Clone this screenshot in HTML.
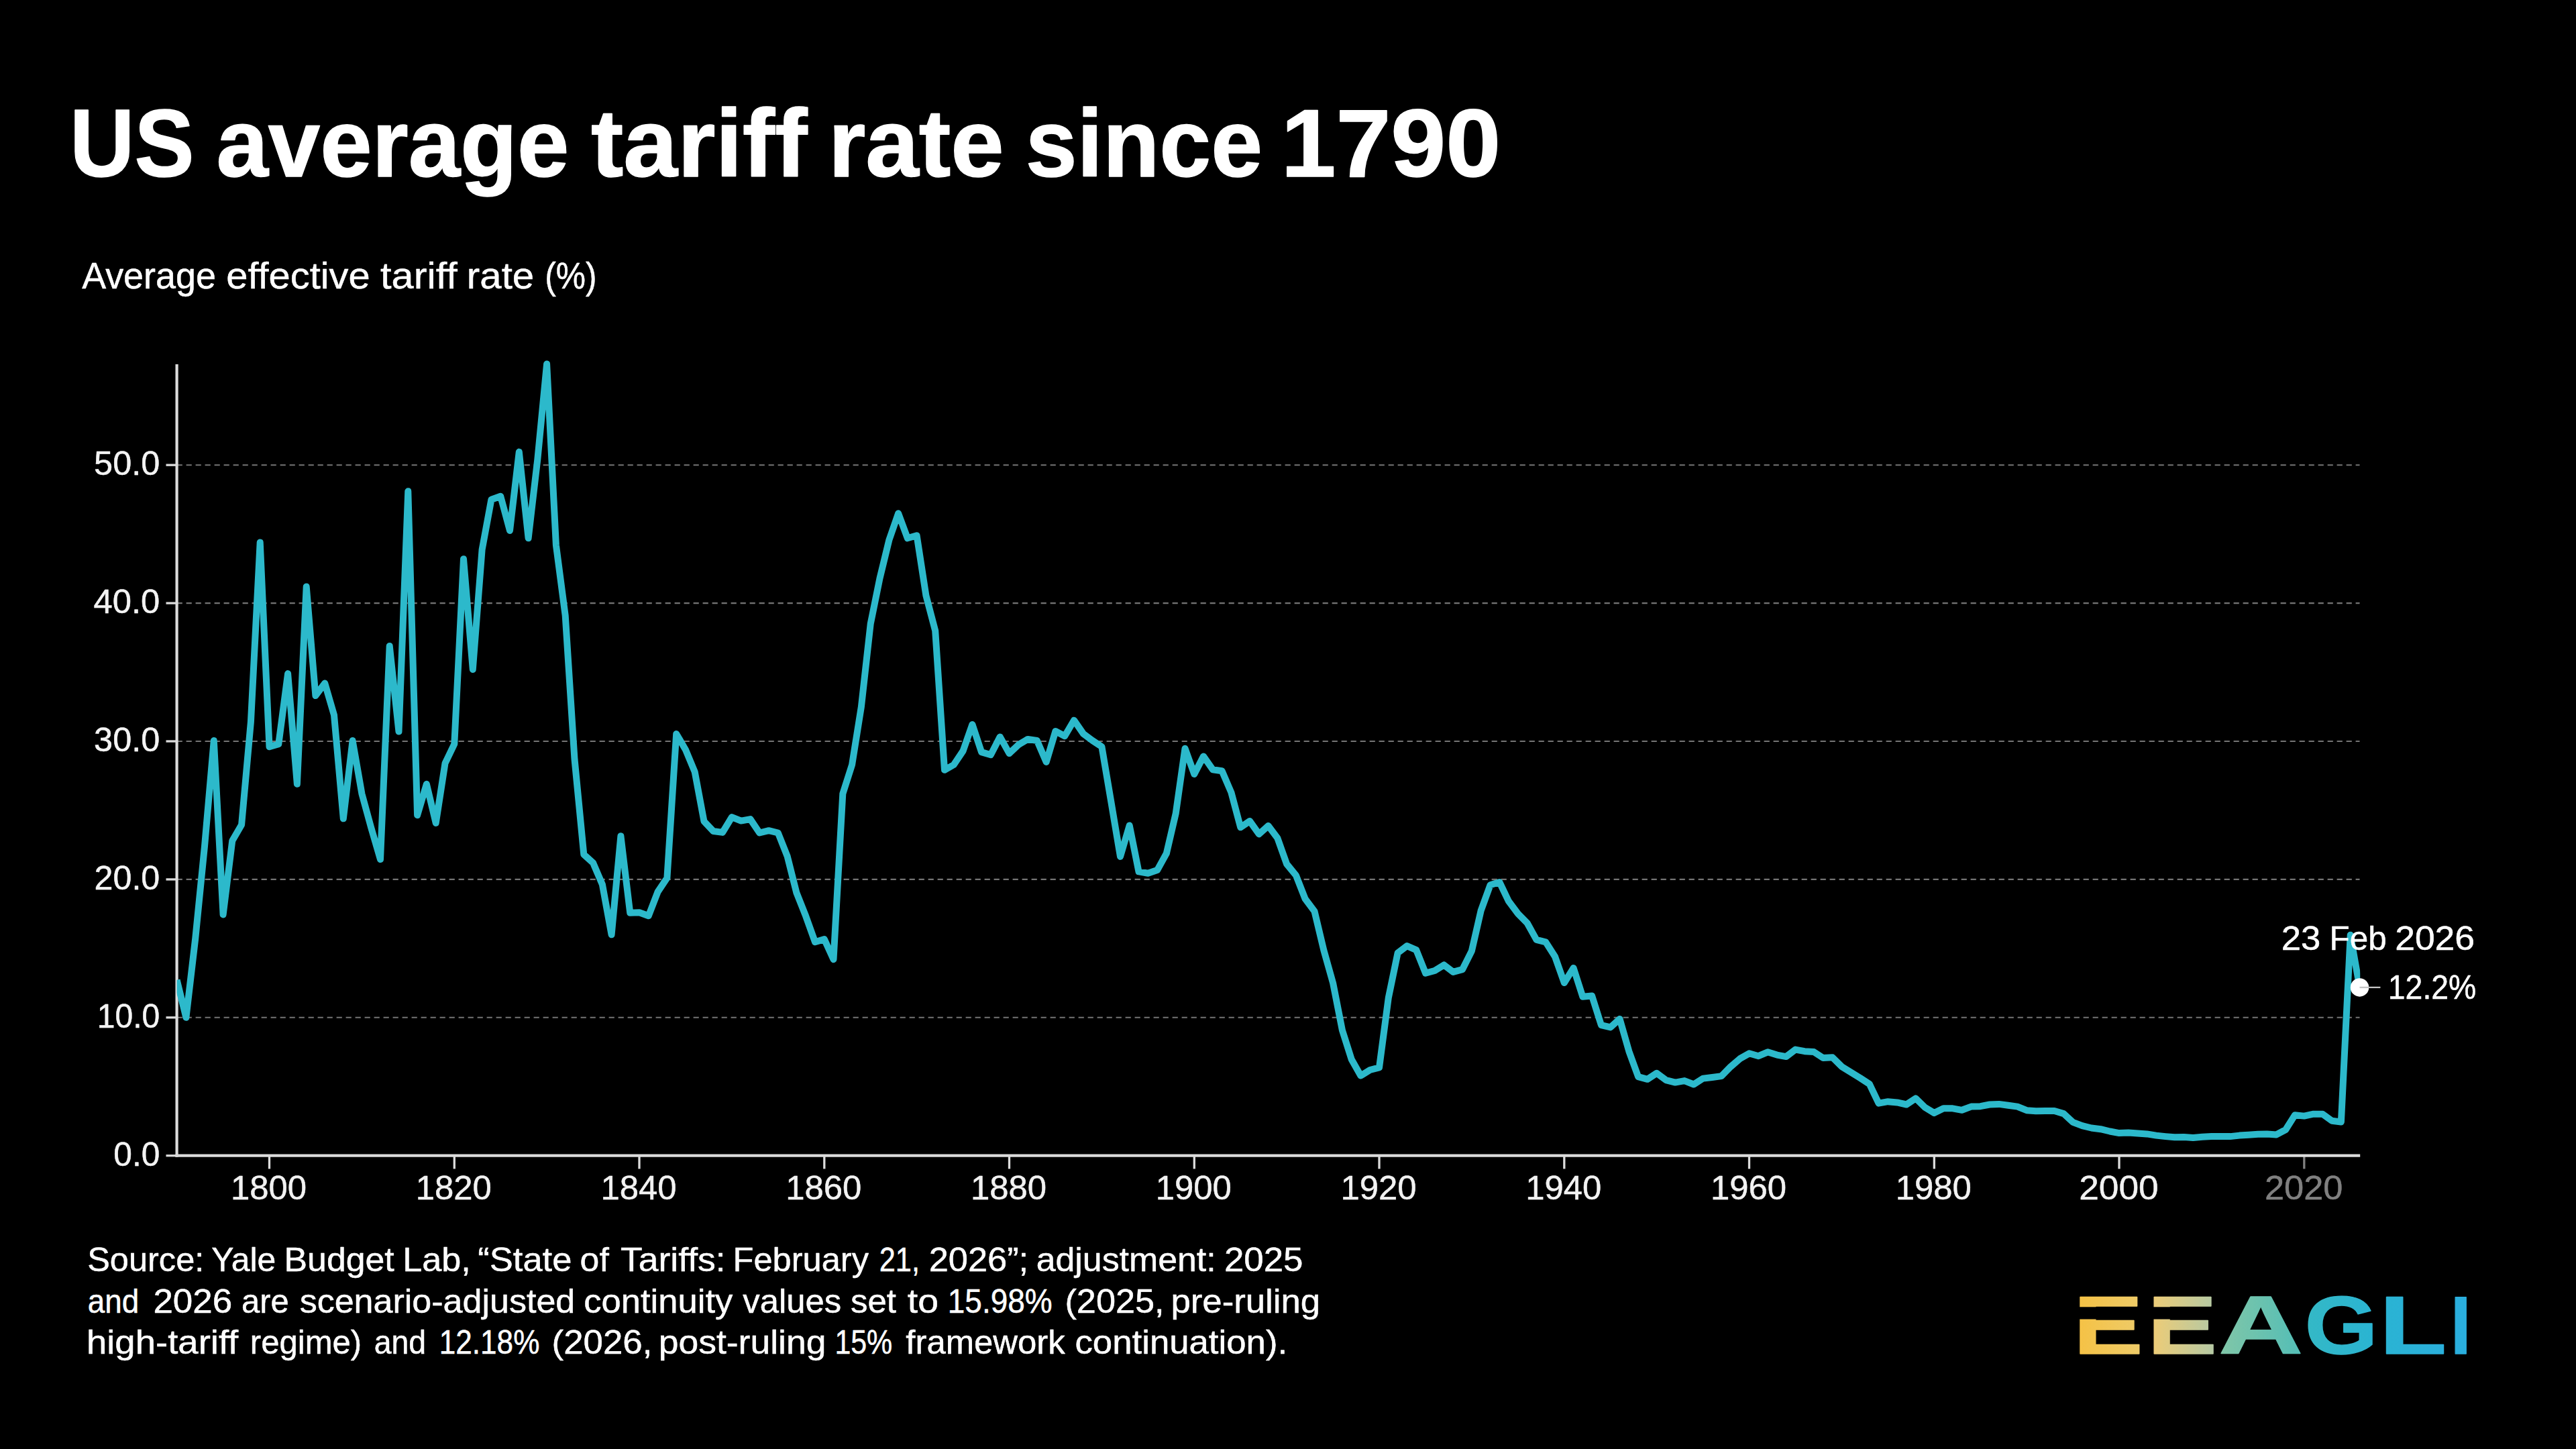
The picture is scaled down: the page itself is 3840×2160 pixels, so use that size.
<!DOCTYPE html>
<html lang="en"><head><meta charset="utf-8"><title>US average tariff rate since 1790</title>
<style>html,body{margin:0;padding:0;background:#000;}body{width:3840px;height:2160px;overflow:hidden;}svg{display:block;}text{font-family:"Liberation Sans", sans-serif;fill:#fff;stroke:#fff;stroke-width:0.5px;stroke-linejoin:round;}</style></head><body>
<svg width="3840" height="2160" viewBox="0 0 3840 2160">
<defs><linearGradient id="lg" gradientUnits="userSpaceOnUse" x1="3100" y1="0" x2="3677" y2="0"><stop offset="0.0000" stop-color="rgb(245,194,70)"/><stop offset="0.1542" stop-color="rgb(238,203,104)"/><stop offset="0.1924" stop-color="rgb(236,204,120)"/><stop offset="0.3466" stop-color="rgb(181,201,164)"/><stop offset="0.3657" stop-color="rgb(128,198,168)"/><stop offset="0.5702" stop-color="rgb(84,190,182)"/><stop offset="0.5910" stop-color="rgb(52,184,198)"/><stop offset="0.7574" stop-color="rgb(42,180,210)"/><stop offset="1.0000" stop-color="rgb(42,174,222)"/></linearGradient></defs>
<rect width="3840" height="2160" fill="#000"/>
<text y="262.7" font-size="142.2" font-weight="700" style="stroke-width:1.5px"><tspan x="104.00" textLength="185.64" lengthAdjust="spacingAndGlyphs">US</tspan> <tspan x="322.43" textLength="526.05" lengthAdjust="spacingAndGlyphs">average</tspan> <tspan x="880.99" textLength="322.49" lengthAdjust="spacingAndGlyphs">tariff</tspan> <tspan x="1234.78" textLength="261.95" lengthAdjust="spacingAndGlyphs">rate</tspan> <tspan x="1528.66" textLength="353.46" lengthAdjust="spacingAndGlyphs">since</tspan> <tspan x="1909.48" textLength="327.77" lengthAdjust="spacingAndGlyphs">1790</tspan></text>
<text y="429.6" font-size="55" font-weight="400" style="stroke-width:0.5px"><tspan x="122.14" textLength="199.95" lengthAdjust="spacingAndGlyphs">Average</tspan> <tspan x="337.39" textLength="214.32" lengthAdjust="spacingAndGlyphs">effective</tspan> <tspan x="567.09" textLength="114.68" lengthAdjust="spacingAndGlyphs">tariff</tspan> <tspan x="695.88" textLength="100.36" lengthAdjust="spacingAndGlyphs">rate</tspan> <tspan x="812.15" textLength="77.35" lengthAdjust="spacingAndGlyphs">(%)</tspan></text>
<line x1="263.6" x2="3517.5" y1="1516.8" y2="1516.8" stroke="#747474" stroke-width="2.1" stroke-dasharray="8.2 5.8"/>
<line x1="263.6" x2="3517.5" y1="1310.9" y2="1310.9" stroke="#747474" stroke-width="2.1" stroke-dasharray="8.2 5.8"/>
<line x1="263.6" x2="3517.5" y1="1105.0" y2="1105.0" stroke="#747474" stroke-width="2.1" stroke-dasharray="8.2 5.8"/>
<line x1="263.6" x2="3517.5" y1="899.1" y2="899.1" stroke="#747474" stroke-width="2.1" stroke-dasharray="8.2 5.8"/>
<line x1="263.6" x2="3517.5" y1="693.2" y2="693.2" stroke="#747474" stroke-width="2.1" stroke-dasharray="8.2 5.8"/>
<line x1="247.5" x2="263.6" y1="1722.7" y2="1722.7" stroke="#dcdcdc" stroke-width="3.3"/>
<text transform="translate(169.25,1737.7) scale(1.0000,1)" font-size="49.7" font-weight="400" style="fill:#f4f4f4;stroke:#f4f4f4">0.0</text>
<line x1="247.5" x2="263.6" y1="1516.8" y2="1516.8" stroke="#dcdcdc" stroke-width="3.3"/>
<text transform="translate(144.69,1531.8) scale(0.9677,1)" font-size="49.7" font-weight="400" style="fill:#f4f4f4;stroke:#f4f4f4">10.0</text>
<line x1="247.5" x2="263.6" y1="1310.9" y2="1310.9" stroke="#dcdcdc" stroke-width="3.3"/>
<text transform="translate(140.44,1325.9) scale(1.0122,1)" font-size="49.7" font-weight="400" style="fill:#f4f4f4;stroke:#f4f4f4">20.0</text>
<line x1="247.5" x2="263.6" y1="1105.0" y2="1105.0" stroke="#dcdcdc" stroke-width="3.3"/>
<text transform="translate(140.12,1120.0) scale(1.0155,1)" font-size="49.7" font-weight="400" style="fill:#f4f4f4;stroke:#f4f4f4">30.0</text>
<line x1="247.5" x2="263.6" y1="899.1" y2="899.1" stroke="#dcdcdc" stroke-width="3.3"/>
<text transform="translate(139.51,914.1) scale(1.0220,1)" font-size="49.7" font-weight="400" style="fill:#f4f4f4;stroke:#f4f4f4">40.0</text>
<line x1="247.5" x2="263.6" y1="693.2" y2="693.2" stroke="#dcdcdc" stroke-width="3.3"/>
<text transform="translate(140.12,708.2) scale(1.0155,1)" font-size="49.7" font-weight="400" style="fill:#f4f4f4;stroke:#f4f4f4">50.0</text>
<line x1="401.5" x2="401.5" y1="1723" y2="1742.4" stroke="#dcdcdc" stroke-width="3.3"/>
<text transform="translate(343.92,1788.3) scale(1.0243,1)" font-size="49.7" font-weight="400" style="fill:#f2f2f2;stroke:#f2f2f2">1800</text>
<line x1="677.3" x2="677.3" y1="1723" y2="1742.4" stroke="#dcdcdc" stroke-width="3.3"/>
<text transform="translate(619.67,1788.3) scale(1.0243,1)" font-size="49.7" font-weight="400" style="fill:#f2f2f2;stroke:#f2f2f2">1820</text>
<line x1="953.0" x2="953.0" y1="1723" y2="1742.4" stroke="#dcdcdc" stroke-width="3.3"/>
<text transform="translate(895.42,1788.3) scale(1.0243,1)" font-size="49.7" font-weight="400" style="fill:#f2f2f2;stroke:#f2f2f2">1840</text>
<line x1="1228.8" x2="1228.8" y1="1723" y2="1742.4" stroke="#dcdcdc" stroke-width="3.3"/>
<text transform="translate(1171.17,1788.3) scale(1.0243,1)" font-size="49.7" font-weight="400" style="fill:#f2f2f2;stroke:#f2f2f2">1860</text>
<line x1="1504.5" x2="1504.5" y1="1723" y2="1742.4" stroke="#dcdcdc" stroke-width="3.3"/>
<text transform="translate(1446.93,1788.3) scale(1.0243,1)" font-size="49.7" font-weight="400" style="fill:#f2f2f2;stroke:#f2f2f2">1880</text>
<line x1="1780.3" x2="1780.3" y1="1723" y2="1742.4" stroke="#dcdcdc" stroke-width="3.3"/>
<text transform="translate(1722.68,1788.3) scale(1.0243,1)" font-size="49.7" font-weight="400" style="fill:#f2f2f2;stroke:#f2f2f2">1900</text>
<line x1="2056.0" x2="2056.0" y1="1723" y2="1742.4" stroke="#dcdcdc" stroke-width="3.3"/>
<text transform="translate(1998.43,1788.3) scale(1.0243,1)" font-size="49.7" font-weight="400" style="fill:#f2f2f2;stroke:#f2f2f2">1920</text>
<line x1="2331.8" x2="2331.8" y1="1723" y2="1742.4" stroke="#dcdcdc" stroke-width="3.3"/>
<text transform="translate(2274.18,1788.3) scale(1.0243,1)" font-size="49.7" font-weight="400" style="fill:#f2f2f2;stroke:#f2f2f2">1940</text>
<line x1="2607.5" x2="2607.5" y1="1723" y2="1742.4" stroke="#dcdcdc" stroke-width="3.3"/>
<text transform="translate(2549.94,1788.3) scale(1.0243,1)" font-size="49.7" font-weight="400" style="fill:#f2f2f2;stroke:#f2f2f2">1960</text>
<line x1="2883.3" x2="2883.3" y1="1723" y2="1742.4" stroke="#dcdcdc" stroke-width="3.3"/>
<text transform="translate(2825.69,1788.3) scale(1.0243,1)" font-size="49.7" font-weight="400" style="fill:#f2f2f2;stroke:#f2f2f2">1980</text>
<line x1="3159.0" x2="3159.0" y1="1723" y2="1742.4" stroke="#dcdcdc" stroke-width="3.3"/>
<text transform="translate(3099.23,1788.3) scale(1.0711,1)" font-size="49.7" font-weight="400" style="fill:#f2f2f2;stroke:#f2f2f2">2000</text>
<line x1="3434.8" x2="3434.8" y1="1723" y2="1742.4" stroke="#808080" stroke-width="3.3"/>
<text transform="translate(3375.92,1788.3) scale(1.0542,1)" font-size="49.7" font-weight="400" style="fill:#808080;stroke:#808080">2020</text>
<line x1="263.6" x2="263.6" y1="542.9" y2="1724.8" stroke="#dcdcdc" stroke-width="4.2"/>
<line x1="261.5" x2="3518.2" y1="1722.7" y2="1722.7" stroke="#dcdcdc" stroke-width="4.2"/>
<clipPath id="cp"><rect x="263.6" y="500" width="3254.6" height="1300"/></clipPath>
<polyline clip-path="url(#cp)" points="263.6,1460.8 277.4,1516.8 291.2,1399.4 305.0,1261.5 318.8,1104.0 332.6,1363.4 346.3,1253.2 360.1,1229.4 373.9,1076.2 387.7,808.5 401.5,1113.2 415.3,1109.1 429.1,1004.1 442.9,1168.8 456.7,874.4 470.4,1037.1 484.2,1018.5 498.0,1065.9 511.8,1220.3 525.6,1104.0 539.4,1183.2 553.2,1233.7 567.0,1281.0 580.7,962.9 594.5,1090.6 608.3,732.3 622.1,1215.2 635.9,1168.8 649.7,1226.9 663.5,1137.9 677.3,1109.1 691.0,833.2 704.8,997.9 718.6,819.4 732.4,744.7 746.2,739.7 760.0,791.0 773.8,673.6 787.6,802.3 801.3,685.0 815.1,542.5 828.9,812.6 842.7,917.6 856.5,1131.8 870.3,1273.8 884.1,1286.2 897.9,1318.5 911.6,1393.3 925.4,1246.2 939.2,1360.7 953.0,1360.3 966.8,1365.3 980.6,1329.4 994.4,1308.8 1008.2,1093.9 1021.9,1117.4 1035.7,1150.7 1049.5,1224.4 1063.3,1239.0 1077.1,1240.9 1090.9,1218.2 1104.7,1223.6 1118.5,1221.1 1132.2,1241.5 1146.0,1238.2 1159.8,1241.5 1173.6,1276.3 1187.4,1330.9 1201.2,1365.7 1215.0,1404.2 1228.8,1400.1 1242.5,1430.3 1256.3,1183.2 1270.1,1140.0 1283.9,1053.5 1297.7,930.0 1311.5,862.0 1325.3,805.2 1339.1,765.3 1352.8,802.3 1366.6,798.2 1380.4,887.8 1394.2,940.3 1408.0,1147.8 1421.8,1140.0 1435.6,1119.4 1449.4,1079.9 1463.1,1121.1 1476.9,1125.2 1490.7,1098.4 1504.5,1123.1 1518.3,1110.1 1532.1,1101.9 1545.9,1104.0 1559.7,1135.9 1573.4,1090.0 1587.2,1097.2 1601.0,1073.7 1614.8,1093.7 1628.6,1104.0 1642.4,1113.2 1656.2,1194.6 1670.0,1276.9 1683.7,1230.4 1697.5,1299.4 1711.3,1301.8 1725.1,1297.1 1738.9,1272.0 1752.7,1212.7 1766.5,1115.7 1780.3,1154.0 1794.0,1127.4 1807.8,1147.2 1821.6,1149.3 1835.4,1181.4 1849.2,1233.3 1863.0,1224.0 1876.8,1243.4 1890.6,1231.0 1904.3,1249.3 1918.1,1288.0 1931.9,1304.9 1945.7,1340.1 1959.5,1358.5 1973.3,1416.3 1987.1,1465.5 2000.9,1535.7 2014.7,1579.2 2028.4,1603.5 2042.2,1595.0 2056.0,1591.3 2069.8,1487.2 2083.6,1420.4 2097.4,1410.1 2111.2,1416.1 2125.0,1450.7 2138.7,1447.0 2152.5,1438.4 2166.3,1448.9 2180.1,1445.1 2193.9,1417.4 2207.7,1357.2 2221.5,1319.3 2235.3,1315.0 2249.0,1343.6 2262.8,1362.0 2276.6,1376.0 2290.4,1400.9 2304.2,1404.4 2318.0,1426.0 2331.8,1465.1 2345.6,1442.9 2359.3,1485.7 2373.1,1484.5 2386.9,1528.1 2400.7,1531.4 2414.5,1518.9 2428.3,1567.2 2442.1,1605.1 2455.9,1608.8 2469.6,1599.8 2483.4,1610.1 2497.2,1613.6 2511.0,1611.1 2524.8,1616.5 2538.6,1607.6 2552.4,1606.0 2566.2,1604.1 2579.9,1590.1 2593.7,1578.2 2607.5,1570.3 2621.3,1574.2 2635.1,1568.3 2648.9,1572.6 2662.7,1575.1 2676.5,1564.6 2690.2,1567.2 2704.0,1568.1 2717.8,1577.1 2731.6,1576.3 2745.4,1589.9 2759.2,1598.5 2773.0,1607.0 2786.8,1616.0 2800.5,1644.7 2814.3,1642.2 2828.1,1643.4 2841.9,1646.5 2855.7,1637.3 2869.5,1650.8 2883.3,1659.1 2897.1,1652.3 2910.8,1652.3 2924.6,1654.8 2938.4,1649.6 2952.2,1649.2 2966.0,1646.5 2979.8,1645.9 2993.6,1647.8 3007.4,1649.6 3021.1,1655.2 3034.9,1656.2 3048.7,1656.0 3062.5,1656.0 3076.3,1660.1 3090.1,1672.9 3103.9,1678.2 3117.7,1681.5 3131.4,1683.2 3145.2,1686.5 3159.0,1689.1 3172.8,1688.5 3186.6,1689.6 3200.4,1690.4 3214.2,1692.6 3228.0,1694.1 3241.7,1695.3 3255.5,1694.9 3269.3,1695.9 3283.1,1694.7 3296.9,1694.1 3310.7,1694.1 3324.5,1694.1 3338.3,1692.6 3352.0,1691.8 3365.8,1690.8 3379.6,1690.4 3393.4,1691.4 3407.2,1684.0 3421.0,1662.2 3434.8,1663.6 3448.6,1660.7 3462.3,1660.7 3476.1,1670.8 3489.9,1672.5 3503.7,1393.7 3517.5,1471.9" fill="none" stroke="#2cb9cb" stroke-width="10" stroke-linejoin="round" stroke-linecap="butt"/>
<circle cx="3517.5" cy="1471.9" r="13.75" fill="#fff"/>
<line x1="3517.5" x2="3548.4" y1="1471.9" y2="1471.9" stroke="#c4c4c4" stroke-width="2.3"/>
<text transform="translate(3559.80,1489.0) scale(0.9337,1)" font-size="49.7" font-weight="400">12.2%</text>
<text y="1415.8" font-size="49.7" font-weight="400" style="stroke-width:0.5px"><tspan x="3400.82" textLength="58.45" lengthAdjust="spacingAndGlyphs">23</tspan> <tspan x="3472.57" textLength="85.07" lengthAdjust="spacingAndGlyphs">Feb</tspan> <tspan x="3570.19" textLength="118.87" lengthAdjust="spacingAndGlyphs">2026</tspan></text>
<text y="1894.6" font-size="49.7" font-weight="400" style="stroke-width:0.5px"><tspan x="130.15" textLength="174.14" lengthAdjust="spacingAndGlyphs">Source:</tspan> <tspan x="315.17" textLength="96.00" lengthAdjust="spacingAndGlyphs">Yale</tspan> <tspan x="423.59" textLength="164.09" lengthAdjust="spacingAndGlyphs">Budget</tspan> <tspan x="600.17" textLength="101.55" lengthAdjust="spacingAndGlyphs">Lab,</tspan> <tspan x="712.31" textLength="140.09" lengthAdjust="spacingAndGlyphs">“State</tspan> <tspan x="864.64" textLength="43.16" lengthAdjust="spacingAndGlyphs">of</tspan> <tspan x="924.98" textLength="156.67" lengthAdjust="spacingAndGlyphs">Tariffs:</tspan> <tspan x="1092.60" textLength="202.41" lengthAdjust="spacingAndGlyphs">February</tspan> <tspan x="1310.77" textLength="60.16" lengthAdjust="spacingAndGlyphs">21,</tspan> <tspan x="1384.75" textLength="148.39" lengthAdjust="spacingAndGlyphs">2026”;</tspan> <tspan x="1544.66" textLength="268.03" lengthAdjust="spacingAndGlyphs">adjustment:</tspan> <tspan x="1824.94" textLength="117.59" lengthAdjust="spacingAndGlyphs">2025</tspan></text>
<text y="1956.7" font-size="49.7" font-weight="400" style="stroke-width:0.5px"><tspan x="130.65" textLength="76.55" lengthAdjust="spacingAndGlyphs">and</tspan> <tspan x="228.45" textLength="117.73" lengthAdjust="spacingAndGlyphs">2026</tspan> <tspan x="360.05" textLength="70.63" lengthAdjust="spacingAndGlyphs">are</tspan> <tspan x="446.65" textLength="410.64" lengthAdjust="spacingAndGlyphs">scenario-adjusted</tspan> <tspan x="870.31" textLength="222.02" lengthAdjust="spacingAndGlyphs">continuity</tspan> <tspan x="1107.37" textLength="146.82" lengthAdjust="spacingAndGlyphs">values</tspan> <tspan x="1268.02" textLength="67.98" lengthAdjust="spacingAndGlyphs">set</tspan> <tspan x="1352.87" textLength="46.16" lengthAdjust="spacingAndGlyphs">to</tspan> <tspan x="1412.75" textLength="155.94" lengthAdjust="spacingAndGlyphs">15.98%</tspan> <tspan x="1587.44" textLength="148.10" lengthAdjust="spacingAndGlyphs">(2025,</tspan> <tspan x="1745.42" textLength="222.80" lengthAdjust="spacingAndGlyphs">pre-ruling</tspan></text>
<text y="2018.2" font-size="49.7" font-weight="400" style="stroke-width:0.5px"><tspan x="128.93" textLength="226.36" lengthAdjust="spacingAndGlyphs">high-tariff</tspan> <tspan x="372.83" textLength="166.37" lengthAdjust="spacingAndGlyphs">regime)</tspan> <tspan x="557.66" textLength="77.51" lengthAdjust="spacingAndGlyphs">and</tspan> <tspan x="654.75" textLength="149.65" lengthAdjust="spacingAndGlyphs">12.18%</tspan> <tspan x="822.64" textLength="149.78" lengthAdjust="spacingAndGlyphs">(2026,</tspan> <tspan x="981.80" textLength="249.57" lengthAdjust="spacingAndGlyphs">post-ruling</tspan> <tspan x="1244.40" textLength="85.81" lengthAdjust="spacingAndGlyphs">15%</tspan> <tspan x="1350.35" textLength="237.30" lengthAdjust="spacingAndGlyphs">framework</tspan> <tspan x="1602.50" textLength="316.62" lengthAdjust="spacingAndGlyphs">continuation).</tspan></text>
<text y="2018" font-size="121.8" font-weight="700" style="fill:url(#lg);stroke:url(#lg);stroke-width:1.4px"><tspan x="3090.80" textLength="103.90" lengthAdjust="spacingAndGlyphs">E</tspan><tspan x="3201.06" textLength="103.93" lengthAdjust="spacingAndGlyphs">E</tspan><tspan x="3307.06" textLength="126.24" lengthAdjust="spacingAndGlyphs">A</tspan><tspan x="3435.53" textLength="109.13" lengthAdjust="spacingAndGlyphs">G</tspan><tspan x="3546.80" textLength="100.54" lengthAdjust="spacingAndGlyphs">L</tspan><tspan x="3652.80" textLength="30.90" lengthAdjust="spacingAndGlyphs">I</tspan></text>
<rect x="3098.5" y="1948.3" width="28" height="18.2" fill="#000"/>
<rect x="3208.7" y="1948.3" width="28" height="18.2" fill="#000"/>
</svg></body></html>
